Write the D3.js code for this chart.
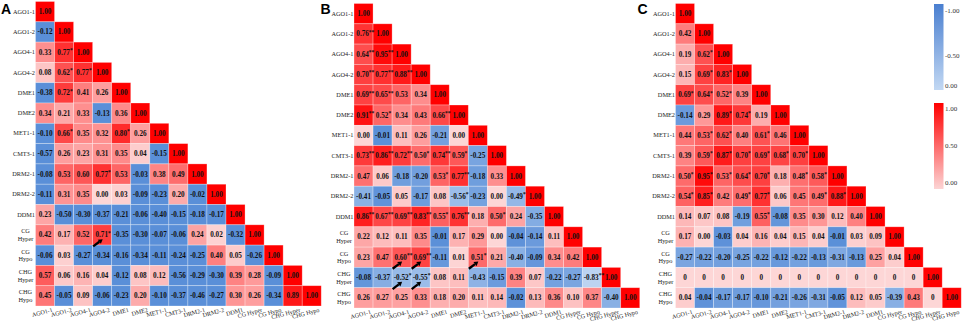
<!DOCTYPE html>
<html><head><meta charset="utf-8">
<script src="https://cdn.jsdelivr.net/npm/d3@7"></script>
<style>body{margin:0;background:#fff}svg{display:block}</style>
</head><body><svg id="chart" width="964" height="324"></svg>
<script>
const labels = ["AGO1-1","AGO1-2","AGO4-1","AGO4-2","DME1","DME2","MET1-1","CMT3-1","DRM2-1","DRM2-2","DDM1","CG Hyper","CG Hypo","CHG Hyper","CHG Hypo"];

const panelA = [
 ["1.00"],
 ["-0.12","1.00"],
 ["0.33","0.77*","1.00"],
 ["0.08","0.62*","0.77*","1.00"],
 ["-0.38","0.72*","0.41","0.26","1.00"],
 ["0.34","0.21","0.33","-0.13","0.36","1.00"],
 ["-0.10","0.66*","0.35","0.32","0.80*","0.26","1.00"],
 ["-0.57","0.26","0.23","0.31","0.35","0.04","-0.15","1.00"],
 ["-0.08","0.53","0.60","0.77*","0.53","-0.03","0.38","0.49","1.00"],
 ["-0.11","0.31","0.35","0.00","0.03","-0.09","-0.23","0.20","-0.02","1.00"],
 ["0.23","-0.50","-0.30","-0.37","-0.21","-0.06","-0.40","-0.15","-0.18","-0.17","1.00"],
 ["0.42","0.17","0.52","0.71*","-0.35","-0.30","-0.07","-0.06","0.24","0.02","-0.32","1.00"],
 ["-0.06","0.03","-0.27","-0.34","-0.16","-0.34","-0.11","-0.24","-0.25","0.40","0.05","-0.26","1.00"],
 ["0.57","0.06","0.16","0.04","-0.12","0.08","0.12","-0.56","-0.29","-0.30","0.39","0.28","-0.09","1.00"],
 ["0.45","-0.05","0.09","-0.06","-0.23","0.20","-0.10","-0.37","-0.46","-0.27","0.30","0.26","-0.34","0.89","1.00"]
];

const panelB = [
 ["1.00"],
 ["0.76**","1.00"],
 ["0.64**","0.95**","1.00"],
 ["0.70**","0.77**","0.88**","1.00"],
 ["0.69**","0.65**","0.53","0.34","1.00"],
 ["0.91**","0.52*","0.34","0.43","0.66**","1.00"],
 ["0.00","-0.01","0.11","0.26","-0.21","0.00","1.00"],
 ["0.73**","0.86**","0.72**","0.50*","0.74**","0.59*","-0.25","1.00"],
 ["0.47","0.06","-0.18","-0.20","0.53*","0.77**","-0.18","0.33","1.00"],
 ["-0.41","-0.05","0.05","-0.17","0.08","-0.56*","-0.23","0.00","-0.49*","1.00"],
 ["0.86**","0.67**","0.69**","0.83**","0.55*","0.76**","0.18","0.50*","0.24","-0.35","1.00"],
 ["0.22","0.12","0.11","0.35","-0.01","0.17","0.29","0.00","-0.04","-0.14","0.11","1.00"],
 ["0.23","0.47","0.60**","0.69**","-0.11","0.01","0.51*","0.21","-0.40","-0.09","0.34","0.42","1.00"],
 ["-0.08","-0.37","-0.52*","-0.55*","0.08","0.11","-0.43","-0.15","0.39","0.07","-0.22","-0.27","-0.83**","1.00"],
 ["0.26","0.27","0.25","0.33","0.18","0.20","0.11","0.14","-0.02","0.13","0.36","0.10","0.37","-0.40","1.00"]
];

const panelC = [
 ["1.00"],
 ["0.42","1.00"],
 ["0.19","0.62*","1.00"],
 ["0.15","0.69*","0.83*","1.00"],
 ["0.69*","0.64*","0.52*","0.39","1.00"],
 ["-0.14","0.29","0.89*","0.74*","0.19","1.00"],
 ["0.44","0.53*","0.62*","0.40","0.61*","0.46","1.00"],
 ["0.39","0.59*","0.87*","0.70*","0.69*","0.68*","0.70*","1.00"],
 ["0.50*","0.95*","0.53*","0.64*","0.70*","0.18","0.48*","0.58*","1.00"],
 ["0.54*","0.85*","0.42","0.49*","0.77*","0.06","0.45","0.49*","0.88*","1.00"],
 ["0.14","0.07","0.08","-0.19","0.55*","-0.08","0.35","0.30","0.12","0.40","1.00"],
 ["0.17","0.00","-0.03","0.04","0.16","0.04","0.15","0.04","-0.01","0.03","0.09","1.00"],
 ["-0.27","-0.22","-0.20","-0.25","-0.22","-0.12","-0.22","-0.13","-0.31","-0.13","0.25","0.04","1.00"],
 ["0","0","0","0","0","0","0","0","0","0","0","0","0","1.00"],
 ["0.04","-0.04","-0.17","-0.17","-0.10","-0.21","-0.26","-0.31","-0.05","0.12","0.05","-0.39","0.43","0","1.00"]
];

// arrows: [row index, column index]
const arrowsA = [[11,3]];
const arrowsB = [[12,2],[12,3],[12,6],[13,2],[13,3]];
const arrowsC = [];

const legendBlueTicks = [-1, -0.5, 0];
const legendRedTicks = [1, 0.5, 0];

const svg = d3.select("#chart");
const CW = 19.05, CH = 20.3;
const serif = "'Liberation Serif','Times New Roman',serif";

const panels = [
 {letter:"A", data:panelA, arrows:arrowsA, x0:35.5, y0:1.5, lx:1,   blueFar:"#5a8fd8"},
 {letter:"B", data:panelB, arrows:arrowsB, x0:354,  y0:3.5, lx:320.5, blueFar:"#d0e1f6"},
 {letter:"C", data:panelC, arrows:arrowsC, x0:675.5,y0:3.5, lx:637.5, blueFar:"#d0e1f6"}
];
const red = d3.scaleLinear().domain([0,1]).range(["#fdd6d6","#ff0000"]);

panels.forEach(p=>{
  const g = svg.append("g");
  const x = d3.scaleBand().domain(labels).range([p.x0, p.x0+CW*labels.length]);
  const y = d3.scaleBand().domain(labels).range([p.y0, p.y0+CH*labels.length]);
  const blue = d3.scaleLinear().domain([0,-1]).range(["#5a8fd8", p.blueFar]);
  const cells = [];
  p.data.forEach((row,i)=>row.forEach((s,j)=>{
    const m = s.match(/^(-?[\d.]+)(\**)$/);
    cells.push({r:labels[i], c:labels[j], v:+m[1], txt:m[1], stars:m[2]});
  }));
  g.selectAll("rect.cell").data(cells).join("rect").attr("class","cell")
    .attr("x",d=>x(d.c)).attr("y",d=>y(d.r))
    .attr("width",x.bandwidth()).attr("height",y.bandwidth())
    .attr("fill",d=>d.v<0?blue(d.v):red(d.v))
    .attr("stroke","rgba(255,255,255,0.4)").attr("stroke-width",0.7);
  const t = g.selectAll("text.val").data(cells).join("text").attr("class","val")
    .attr("x",d=>x(d.c)+x.bandwidth()/2 + (d.stars? d.stars.length*0.9:0))
    .attr("y",d=>y(d.r)+y.bandwidth()/2+2.5)
    .attr("text-anchor","middle")
    .attr("font-family",serif).attr("font-weight","bold").attr("font-size",7.2)
    .attr("fill","#111");
  t.append("tspan").text(d=>d.txt);
  t.filter(d=>d.stars).append("tspan").text(d=>d.stars)
    .attr("font-size",5.5).attr("dy",-2.8);

  // row labels
  const ya = g.append("g").attr("transform",`translate(${p.x0},0)`)
    .call(d3.axisLeft(y).tickSize(0).tickPadding(0.5));
  ya.select(".domain").remove();
  ya.selectAll("text").attr("font-family",serif).attr("font-size",6.3).attr("fill","#222")
    .each(function(d){
      const parts = d.split(" ");
      if(parts.length>1){
        const el = d3.select(this).text(null).attr("text-anchor","middle").attr("x",-10).attr("dy",null).attr("y",0);
        el.append("tspan").attr("x",-10).attr("dy","-0.25em").text(parts[0]);
        el.append("tspan").attr("x",-10).attr("dy","1.2em").text(parts[1]);
      }
    });

  // column labels
  const bottom = p.y0+CH*labels.length;
  const xa = g.append("g").attr("transform",`translate(0,${bottom})`)
    .call(d3.axisBottom(x).tickSize(0).tickPadding(0));
  xa.select(".domain").remove();
  xa.selectAll("text").attr("font-family",serif).attr("font-size",6.1).attr("fill","#222")
    .attr("text-anchor","end").attr("dy",null).attr("y",0).attr("x",0)
    .attr("transform","translate(8,5.6) rotate(-15)");

  // arrows
  p.arrows.forEach(([ri,ci])=>{
    const cx = x(labels[ci])+CW/2, cy = y(labels[ri])+CH/2;
    const x1=cx-9, y1=cy+11.5, x2=cx+0.5, y2=cy+4.3;
    const ang = Math.atan2(y2-y1,x2-x1);
    const hl=4.2, hw=2.6;
    const bx = x2-hl*Math.cos(ang), by = y2-hl*Math.sin(ang);
    g.append("line").attr("x1",x1).attr("y1",y1).attr("x2",bx).attr("y2",by)
      .attr("stroke","#000").attr("stroke-width",2.3);
    g.append("path").attr("fill","#000")
      .attr("d",`M${x2},${y2}L${bx+hw*Math.sin(ang)},${by-hw*Math.cos(ang)}L${bx-hw*Math.sin(ang)},${by+hw*Math.cos(ang)}Z`);
  });

  // panel letter
  svg.append("text").attr("x",p.lx).attr("y",14.2).text(p.letter)
    .attr("font-family","'Liberation Sans',Arial,sans-serif").attr("font-weight","bold")
    .attr("font-size",14).attr("fill","#000");
});

// legend
const defs = svg.append("defs");
const gb = defs.append("linearGradient").attr("id","gBlue").attr("x1",0).attr("y1",0).attr("x2",0).attr("y2",1);
gb.append("stop").attr("offset","0%").attr("stop-color","#4a7fd0");
gb.append("stop").attr("offset","100%").attr("stop-color","#c2d8f3");
const gr = defs.append("linearGradient").attr("id","gRed").attr("x1",0).attr("y1",0).attr("x2",0).attr("y2",1);
gr.append("stop").attr("offset","0%").attr("stop-color","#ff0000");
gr.append("stop").attr("offset","100%").attr("stop-color","#fcd4d4");

const lgx = 934, lgw = 9.5;
svg.append("rect").attr("x",lgx).attr("y",4).attr("width",lgw).attr("height",86).attr("fill","url(#gBlue)");
svg.append("rect").attr("x",lgx).attr("y",103).attr("width",lgw).attr("height",86).attr("fill","url(#gRed)");
const lyB = d3.scaleLinear().domain([-1,-0.5,0]).range([10.7,55,85]);
const lyR = d3.scaleLinear().domain([1,0]).range([108.3,182.7]);
const la1 = svg.append("g").attr("transform",`translate(${lgx+lgw},0)`)
  .call(d3.axisRight(lyB).tickValues(legendBlueTicks).tickFormat(d3.format(".2f")).tickSize(0).tickPadding(1.5));
const la2 = svg.append("g").attr("transform",`translate(${lgx+lgw},0)`)
  .call(d3.axisRight(lyR).tickValues(legendRedTicks).tickFormat(d3.format(".2f")).tickSize(0).tickPadding(1.5));
[la1,la2].forEach(a=>{
  a.select(".domain").remove();
  a.selectAll("text").attr("font-family",serif).attr("font-size",7).attr("fill","#333");
});
la1.selectAll("text").text(d=>d3.format(".2f")(d).replace("−","-"));
</script></body></html>
